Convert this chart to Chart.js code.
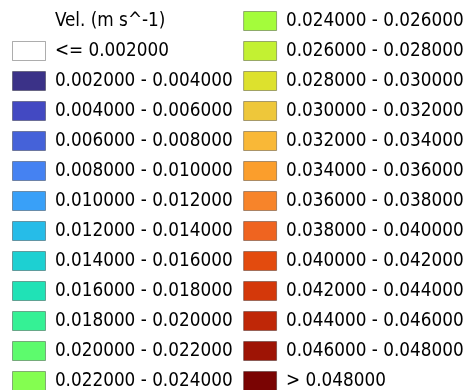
<!DOCTYPE html>
<html>
<head>
<meta charset="utf-8">
<script src="https://cdn.jsdelivr.net/npm/chart.js@4/dist/chart.umd.min.js"></script>
<style>
html,body{margin:0;padding:0;background:#ffffff;overflow:hidden;width:465px;height:390px}
#wrap{width:465px;height:390px;overflow:hidden;position:relative;background:#ffffff}
canvas{display:block}
</style>
</head>
<body>
<div id="wrap"><canvas id="c" width="940" height="415"></canvas></div>
<script>
// Legend title (unit of the classified field)
const legendTitle = 'Vel. (m s^-1)';

// Class break values (m s^-1)
const classBreaks = [0.002, 0.004, 0.006, 0.008, 0.010, 0.012, 0.014, 0.016, 0.018, 0.020, 0.022, 0.024,
                     0.026, 0.028, 0.030, 0.032, 0.034, 0.036, 0.038, 0.040, 0.042, 0.044, 0.046, 0.048];

// Class labels as printed in the legend
const classLabels = [
  '<= 0.002000',
  '0.002000 - 0.004000', '0.004000 - 0.006000', '0.006000 - 0.008000', '0.008000 - 0.010000',
  '0.010000 - 0.012000', '0.012000 - 0.014000', '0.014000 - 0.016000', '0.016000 - 0.018000',
  '0.018000 - 0.020000', '0.020000 - 0.022000', '0.022000 - 0.024000', '0.024000 - 0.026000',
  '0.026000 - 0.028000', '0.028000 - 0.030000', '0.030000 - 0.032000', '0.032000 - 0.034000',
  '0.034000 - 0.036000', '0.036000 - 0.038000', '0.038000 - 0.040000', '0.040000 - 0.042000',
  '0.042000 - 0.044000', '0.044000 - 0.046000', '0.046000 - 0.048000', '> 0.048000'
];

// Class fill colours
const classColors = [
  '#ffffff',
  '#3b3288', '#4349c2', '#4562d9', '#4582f2',
  '#39a0f8', '#26bce8', '#1dd0d2', '#20e2b6',
  '#35f195', '#5dfb6d', '#84fe50', '#a4fc3b',
  '#c3f132', '#dde12d', '#eec73a', '#f9b837',
  '#fb9e2c', '#f7842a', '#ef6420', '#e34b0e',
  '#d4380a', '#bf2707', '#9e1405', '#7a0403'
];

const boxBorder = 'rgba(0,0,0,0.32)';

const datasets = [{
  label: legendTitle,
  data: [],
  backgroundColor: 'rgba(0,0,0,0)',
  borderColor: 'rgba(0,0,0,0)',
  borderWidth: 0
}].concat(classLabels.map((lab, i) => ({
  label: lab,
  data: [],
  backgroundColor: classColors[i],
  borderColor: boxBorder,
  borderWidth: 1
})));

new Chart(document.getElementById('c'), {
  type: 'bar',
  data: { labels: [''], datasets: datasets },
  options: {
    responsive: false,
    animation: false,
    devicePixelRatio: 1,
    layout: { padding: { left: 1.5, top: 0.5, right: 0, bottom: 0 } },
    scales: { x: { display: false }, y: { display: false } },
    plugins: {
      tooltip: { enabled: false },
      legend: {
        position: 'left',
        align: 'start',
        labels: {
          color: '#000000',
          font: { family: "'DejaVu Sans Condensed', 'Open Sans', sans-serif", size: 18.75 },
          boxWidth: 33,
          boxHeight: 19,
          padding: 11
        }
      }
    }
  }
});
</script>
</body>
</html>
